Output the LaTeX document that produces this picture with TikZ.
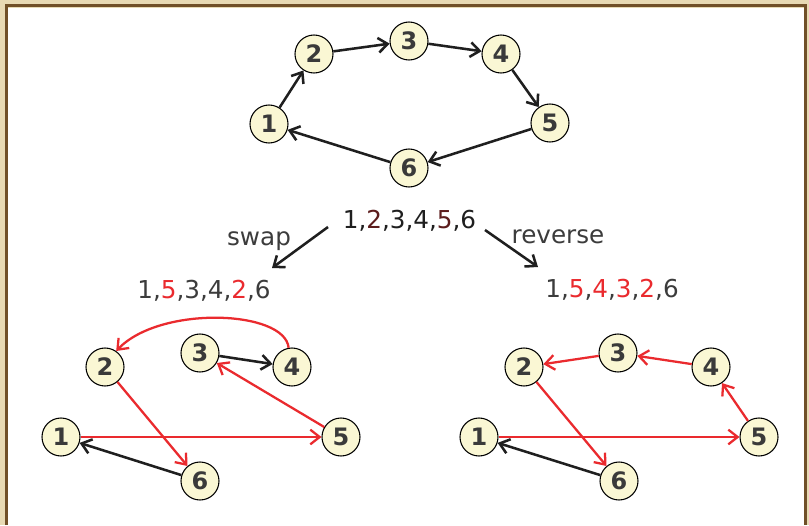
\documentclass[tikz,border=0pt]{standalone}
\usepackage{fontspec}
\setmainfont{DejaVu Sans}
\usepackage{xcolor}
\usepackage{tikz}
\usetikzlibrary{arrows.meta}

\definecolor{framebeige}{RGB}{232,218,180}
\definecolor{framebrown}{RGB}{112,80,40}
\definecolor{vfill}{RGB}{250,247,212}
\definecolor{numgray}{RGB}{58,58,58}
\definecolor{txtgray}{RGB}{60,60,60}
\definecolor{movered}{RGB}{234,42,46}
\definecolor{maroon}{RGB}{92,28,28}

\tikzset{
  vtx/.style={circle, draw=black, line width=0.8pt, fill=vfill, minimum size=28.5pt,
    inner sep=0pt, text=numgray, font=\fontsize{18}{18}\selectfont\bfseries},
  blkedge/.style={-{Straight Barb[length=7pt,width=11pt]}, line width=1.9pt, black!88},
  rededge/.style={-{Straight Barb[length=7pt,width=11pt]}, line width=1.7pt, movered},
  seqtxt/.style={anchor=base, inner sep=0pt, font=\fontsize{18.5}{20}\selectfont}
}

\begin{document}
\begin{tikzpicture}[x=0.75pt, y=0.75pt]
\useasboundingbox (0,0) rectangle (809,-525);
% frame
\fill[framebeige] (0,0) rectangle (809,-525);
\fill[white] (7.5,-7.5) rectangle (804.5,-525);
\draw[framebrown, line width=2.4pt] (6.5,-525) -- (6.5,-5.7) -- (805.5,-5.7) -- (805.5,-525);
% original tour
\foreach \n/\x/\y in {1/269/124, 2/314/54, 3/409/41, 4/501/54, 5/550/123, 6/409/168}
  \node[vtx] (t\n) at (\x,-\y) {\n};
\draw[blkedge] (t1) -- (t2);
\draw[blkedge] (t2) -- (t3);
\draw[blkedge] (t3) -- (t4);
\draw[blkedge] (t4) -- (t5);
\draw[blkedge] (t5) -- (t6);
\draw[blkedge] (t6) -- (t1);
% sequences and moves
\node[seqtxt, text=black!88] (seq) at (409.5,-228) {1,\textcolor{maroon}{2},3,4,\textcolor{maroon}{5},6};
\node[seqtxt, text=txtgray] (swaplbl) at (259,-245) {swap};
\node[seqtxt, text=txtgray] (revlbl) at (558,-243) {reverse};
\node[seqtxt, text=txtgray] (swapseq) at (204,-298) {1,\textcolor{movered}{5},3,4,\textcolor{movered}{2},6};
\node[seqtxt, text=txtgray] (revseq) at (612,-297) {1,\textcolor{movered}{5},\textcolor{movered}{4},\textcolor{movered}{3},\textcolor{movered}{2},6};
\coordinate (swapA) at (328,-227);
\coordinate (swapB) at (272,-268);
\coordinate (revA) at (485,-230);
\coordinate (revB) at (538,-267);
\draw[blkedge] (swapA) -- (swapB);
\draw[blkedge] (revA) -- (revB);
% swap result
\foreach \n/\x/\y in {1/61/437, 2/105/367, 3/200/353, 4/292/367, 5/341/437, 6/200/481}
  \node[vtx] (s\n) at (\x,-\y) {\n};
\draw[rededge] (s1) -- (s5);
\draw[rededge] (s2) -- (s6);
\draw[rededge] (s5) -- (s3);
\draw[blkedge] (s3) -- (s4);
\draw[rededge] (s4.100) .. controls (285,-310) and (160,-305) .. (s2.55);
\draw[blkedge] (s6) -- (s1);
% reverse result
\foreach \n/\x/\y in {1/479/437, 2/524/367, 3/618/353, 4/711/367, 5/759/437, 6/619/481}
  \node[vtx] (r\n) at (\x,-\y) {\n};
\draw[rededge] (r1) -- (r5);
\draw[rededge] (r2) -- (r6);
\draw[rededge] (r5) -- (r4);
\draw[rededge] (r4) -- (r3);
\draw[rededge] (r3) -- (r2);
\draw[blkedge] (r6) -- (r1);
\end{tikzpicture}
\end{document}
